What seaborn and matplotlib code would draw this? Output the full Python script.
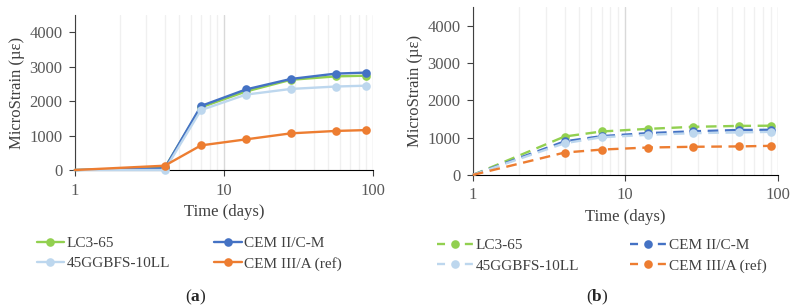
import numpy as np
import pandas as pd
import seaborn as sns
import matplotlib.pyplot as plt
from matplotlib.lines import Line2D
from matplotlib.ticker import LogLocator, NullFormatter

days = [1, 4, 7, 14, 28, 56, 90]
series = ['LC3-65', 'CEM II/C-M', '45GGBFS-10LL', 'CEM III/A (ref)']
colors = ['#92D050', '#4472C4', '#BDD7EE', '#ED7D31']

# panel (a)
a_lc3 = [0, 60, 1820, 2280, 2620, 2720, 2740]
a_cem2 = [0, 50, 1860, 2340, 2645, 2800, 2830]
a_ggbfs = [0, 0, 1740, 2190, 2355, 2425, 2450]
a_cem3 = [0, 125, 715, 890, 1065, 1135, 1160]

# panel (b)
b_lc3 = [0, 1030, 1165, 1235, 1290, 1315, 1320]
b_cem2 = [0, 900, 1040, 1120, 1170, 1205, 1210]
b_ggbfs = [0, 850, 1010, 1075, 1120, 1140, 1155]
b_cem3 = [0, 600, 680, 735, 755, 765, 780]


def long_df(vals):
    rows = []
    for name, v in zip(series, vals):
        for d, y in zip(days, v):
            rows.append({'day': d, 'strain': y, 'mix': name})
    return pd.DataFrame(rows)


df_a = long_df([a_lc3, a_cem2, a_ggbfs, a_cem3])
df_b = long_df([b_lc3, b_cem2, b_ggbfs, b_cem3])

sns.set_style('white')
plt.rcParams['font.family'] = ['Liberation Serif', 'DejaVu Serif']
plt.rcParams['mathtext.fontset'] = 'custom'
plt.rcParams['mathtext.rm'] = 'Liberation Serif'
plt.rcParams['mathtext.bf'] = 'Liberation Serif:bold'

fig = plt.figure(figsize=(7.96, 3.08), dpi=100)
ax_a = fig.add_axes([0.094, 0.448, 0.375, 0.503])
ax_b = fig.add_axes([0.594, 0.432, 0.383, 0.545])

pal = dict(zip(series, colors))
dash = (0, (4.5, 2.8))
dash_legend = (0, (3.4, 8.4))


def draw(ax, df, ls, ls_leg, ms, label, label_x, legend_xy, hl, colsp):
    sns.lineplot(data=df, x='day', y='strain', hue='mix', palette=pal,
                 hue_order=series, marker='o', markersize=ms, markeredgewidth=0,
                 linewidth=1.7, linestyle=ls, legend=False, ax=ax, zorder=3)
    for ln in ax.get_lines():
        ln.set_markevery(list(range(1, len(days))))
        ln.set_clip_on(False)
    ax.set_xscale('log')
    ax.set_xlim(1, 100)
    ax.set_ylim(0, 4500)
    ax.set_yticks([0, 1000, 2000, 3000, 4000])
    ax.xaxis.set_minor_locator(LogLocator(base=10, subs=np.arange(2, 10)))
    ax.xaxis.set_minor_formatter(NullFormatter())
    ax.set_xticks([1, 10, 100])
    ax.set_xticklabels(['1', '10', '100'])
    ax.grid(True, which='major', axis='x', color='#D9D9D9', linewidth=1.0)
    ax.grid(True, which='minor', axis='x', color='#F0F0F0', linewidth=1.0)
    ax.grid(False, axis='y')
    for s in ['top', 'right']:
        ax.spines[s].set_visible(False)
    ax.spines['bottom'].set_color('black')
    ax.spines['left'].set_color('#404040')
    ax.tick_params(axis='both', which='major', labelsize=12, labelcolor='#595959',
                   direction='out', length=4, color='#404040', bottom=True, left=True)
    ax.tick_params(axis='y', pad=5)
    ax.tick_params(axis='x', pad=5)
    ax.tick_params(axis='x', which='minor', length=0)
    ax.set_xlabel('Time (days)', fontsize=12, color='#404040', labelpad=4)
    ax.set_ylabel('MicroStrain (µε)', fontsize=12, color='#404040', labelpad=3)

    handles = [Line2D([], [], color=c, linestyle=ls_leg, linewidth=1.7, marker='o',
                      markersize=ms, markeredgewidth=0) for c in colors]
    order = [0, 2, 1, 3]
    fig.legend([handles[i] for i in order], [series[i] for i in order],
               loc='upper left', bbox_to_anchor=legend_xy, ncol=2, frameon=False,
               fontsize=11, handlelength=hl, handletextpad=0.15, borderpad=0,
               borderaxespad=0, columnspacing=colsp, labelspacing=0.42,
               labelcolor='#404040')
    fig.text(label_x, 0.036, '(' + r'$\mathbf{' + label + '}$' + ')',
             ha='center', va='center', fontsize=12.5)


draw(ax_a, df_a, '-', '-', 6.2, 'a', 0.246, (0.046, 0.232), 1.8, 2.9)
draw(ax_b, df_b, dash, dash_legend, 6.2, 'b', 0.750, (0.549, 0.225), 2.4, 3.3)

fig.savefig('out.png', dpi=100)
plt.close(fig)
